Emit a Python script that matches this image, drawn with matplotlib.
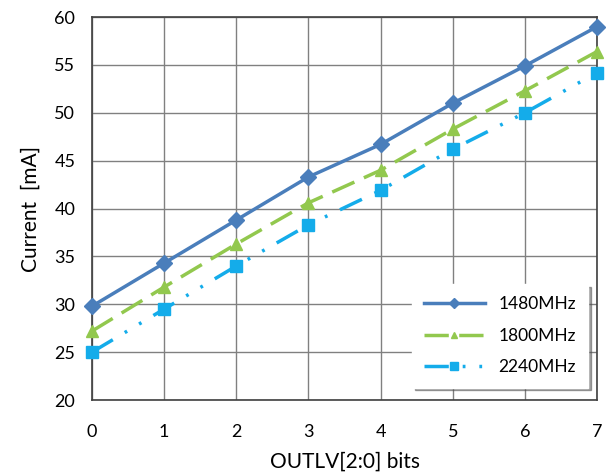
import matplotlib.pyplot as plt

plt.rcParams['font.family'] = ['Lato', 'DejaVu Sans']

# data
bits = [0, 1, 2, 3, 4, 5, 6, 7]
i_1480 = [29.8, 34.3, 38.8, 43.3, 46.7, 51.0, 54.9, 59.0]
i_1800 = [27.2, 31.8, 36.3, 40.6, 44.0, 48.3, 52.3, 56.4]
i_2240 = [25.0, 29.5, 34.0, 38.3, 41.9, 46.2, 50.0, 54.2]

fig = plt.figure(figsize=(6.13, 4.74), dpi=100)
ax = fig.add_axes([0.150, 0.156, 0.824, 0.808])

ax.plot(bits, i_1480, color='#4A7EBB', lw=2.5, marker='D', ms=8,
        label='1480MHz', clip_on=False, zorder=5)
ax.plot(bits, i_1800, color='#92C84E', lw=2.5, marker='^', ms=8,
        dashes=(7, 3), label='1800MHz', clip_on=False, zorder=4)
ax.plot(bits, i_2240, color='#14ACEA', lw=2.5, marker='s', ms=9,
        dashes=(7, 4, 0.8, 4, 0.8, 4), label='2240MHz', clip_on=False, zorder=3)

ax.set_xlim(0, 7)
ax.set_ylim(20, 60)
ax.set_xticks(bits)
ax.set_yticks(range(20, 61, 5))
ax.grid(True, color='#808080', lw=1)
ax.set_axisbelow(True)
for s in ax.spines.values():
    s.set_color('#404040')
    s.set_linewidth(1.2)
ax.tick_params(axis='x', length=0, labelsize=13, pad=17)
ax.tick_params(axis='y', length=0, labelsize=13, pad=12)

ax.set_xlabel('OUTLV[2:0] bits', fontsize=15, labelpad=9)
ax.set_ylabel('Current  [mA]', fontsize=15, labelpad=10)

leg = ax.legend(loc='lower right', fontsize=12.5, shadow=True, fancybox=False,
                framealpha=1, edgecolor='white', handlelength=3.5,
                markerscale=0.6, borderpad=0.7, labelspacing=0.9,
                bbox_to_anchor=(1.0, 0.01))

fig.savefig('out.png', dpi=100)
